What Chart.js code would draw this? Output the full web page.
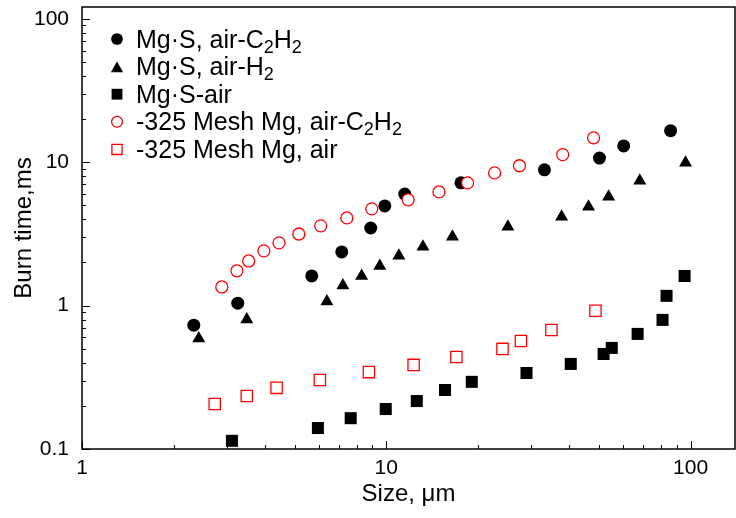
<!DOCTYPE html>
<html>
<head>
<meta charset="utf-8">
<script src="https://cdn.jsdelivr.net/npm/chart.js@4/dist/chart.umd.min.js"></script>
<style>
  html, body { margin: 0; padding: 0; background: #fff; }
  #wrap { width: 736px; height: 518px; }
</style>
</head>
<body>
<div id="wrap"><canvas id="chart" width="736" height="518"></canvas></div>
<script>
// Burn time vs particle size, log-log scatter

// Mg·S, air-C2H2 (filled circles)
const MGS_C2H2_X = [2.33, 3.25, 5.69, 7.14, 8.89, 9.89, 11.5, 17.6, 33.1, 50.2, 60.3, 86];
const MGS_C2H2_Y = [0.73, 1.04, 1.61, 2.37, 3.48, 4.96, 6.0, 7.18, 8.85, 10.7, 13.0, 16.6];

// Mg·S, air-H2 (filled triangles)
const MGS_H2_X = [2.42, 3.48, 6.38, 7.2, 8.3, 9.52, 11.0, 13.2, 16.5, 25.1, 37.7, 46.2, 53.8, 68.1, 96.3];
const MGS_H2_Y = [0.59, 0.80, 1.07, 1.38, 1.61, 1.89, 2.23, 2.57, 3.02, 3.55, 4.17, 4.9, 5.74, 7.43, 9.9];

// Mg·S-air (filled squares)
const MGS_AIR_X = [3.11, 5.96, 7.64, 9.96, 12.6, 15.6, 19.1, 28.9, 40.4, 51.8, 55.1, 67.0, 80.9, 83.4, 95.6];
const MGS_AIR_Y = [0.114, 0.140, 0.164, 0.190, 0.216, 0.258, 0.294, 0.339, 0.392, 0.46, 0.507, 0.635, 0.795, 1.17, 1.61];

// -325 Mesh Mg, air-C2H2 (open red circles)
const MESH_C2H2_X = [2.88, 3.23, 3.53, 3.96, 4.44, 5.16, 6.09, 7.42, 8.96, 11.8, 14.9, 18.5, 22.7, 27.4, 38.0, 48.0];
const MESH_C2H2_Y = [1.35, 1.75, 2.05, 2.41, 2.74, 3.16, 3.6, 4.09, 4.73, 5.47, 6.21, 7.18, 8.43, 9.45, 11.3, 14.8];

// -325 Mesh Mg, air (open red squares)
const MESH_AIR_X = [2.73, 3.48, 4.36, 6.05, 8.77, 12.3, 17.0, 24.1, 27.7, 34.9, 48.7];
const MESH_AIR_Y = [0.206, 0.234, 0.267, 0.303, 0.344, 0.386, 0.438, 0.499, 0.567, 0.676, 0.92];

// labels, "_2" means subscript 2
const LABELS = ["Mg·S, air-C_2H_2", "Mg·S, air-H_2", "Mg·S-air", "-325 Mesh Mg, air-C_2H_2", "-325 Mesh Mg, air"];
const X_TICKS = [1, 10, 100];
const Y_TICKS = [0.1, 1, 10, 100];
const X_RANGE = [1, 140];
const Y_RANGE = [0.1, 121];

const FONT = "'Liberation Sans', Arial, sans-serif";

const pts = (xs, ys) => xs.map((x, i) => ({ x, y: ys[i] }));

const STYLES = [
  { pointStyle: "circle", radius: 6.5, bg: "#000", border: "#000", bw: 0, order: 5 },
  { pointStyle: "triangle", radius: 7.5, bg: "#000", border: "#000", bw: 0, order: 4 },
  { pointStyle: "rect", radius: 8.5, bg: "#000", border: "#000", bw: 0, order: 3 },
  { pointStyle: "circle", radius: 6, bg: "#fff", border: "#ff0000", bw: 1.3, order: 1 },
  { pointStyle: "rect", radius: 8, bg: "#fff", border: "#ff0000", bw: 1.3, order: 2 },
];
const SERIES = [
  pts(MGS_C2H2_X, MGS_C2H2_Y),
  pts(MGS_H2_X, MGS_H2_Y),
  pts(MGS_AIR_X, MGS_AIR_Y),
  pts(MESH_C2H2_X, MESH_C2H2_Y),
  pts(MESH_AIR_X, MESH_AIR_Y),
];

const datasets = SERIES.map((data, i) => ({
  label: LABELS[i].replace(/_/g, ""),
  data,
  showLine: false,
  pointStyle: STYLES[i].pointStyle,
  pointRadius: STYLES[i].radius,
  pointHoverRadius: STYLES[i].radius,
  backgroundColor: STYLES[i].bg,
  borderColor: STYLES[i].border,
  borderWidth: STYLES[i].bw,
  order: STYLES[i].order,
  clip: false,
}));

// minor/major ticks inside the frame, plus the full box
const framePlugin = {
  id: "frame",
  afterDraw(chart) {
    const { ctx, chartArea: a, scales } = chart;
    ctx.save();
    ctx.strokeStyle = "#000";
    ctx.lineWidth = 1;
    const logTicks = (min, max) => {
      const out = [];
      for (let e = Math.floor(Math.log10(min)); e <= Math.ceil(Math.log10(max)); e++) {
        for (let m = 1; m <= 9; m++) {
          const v = m * Math.pow(10, e);
          if (v >= min * 0.999 && v <= max * 1.001) out.push({ v, major: m === 1 });
        }
      }
      return out;
    };
    logTicks(X_RANGE[0], X_RANGE[1]).forEach(t => {
      const px = Math.round(scales.x.getPixelForValue(t.v)) + 0.5;
      const len = t.major ? 8 : 4;
      ctx.beginPath();
      ctx.moveTo(px, a.bottom);
      ctx.lineTo(px, a.bottom - len);
      ctx.stroke();
    });
    logTicks(Y_RANGE[0], Y_RANGE[1]).forEach(t => {
      const py = Math.round(scales.y.getPixelForValue(t.v)) + 0.5;
      const len = t.major ? 8 : 4;
      ctx.beginPath();
      ctx.moveTo(a.left, py);
      ctx.lineTo(a.left + len, py);
      ctx.stroke();
    });
    ctx.lineWidth = 1.5;
    ctx.strokeRect(a.left, a.top, a.right - a.left, a.bottom - a.top);
    ctx.restore();
  },
};

// legend with subscripts, drawn inside the plot
const legendPlugin = {
  id: "subLegend",
  afterDraw(chart) {
    const { ctx } = chart;
    const x0 = 117, y0 = 39, step = 27.6;
    ctx.save();
    LABELS.forEach((label, i) => {
      const y = y0 + i * step;
      const st = STYLES[i];
      ctx.fillStyle = st.bg;
      ctx.strokeStyle = st.border;
      ctx.lineWidth = st.bw;
      const r = st.pointStyle === "triangle" ? st.radius * 0.95 : st.radius * 0.9;
      Chart.helpers.drawPoint(ctx, { pointStyle: st.pointStyle, radius: r, rotation: 0, borderWidth: st.bw }, x0, st.pointStyle === "triangle" ? y + 2 : y);
      let tx = 136;
      const base = y + 8.5;
      ctx.fillStyle = "#000";
      ctx.textBaseline = "alphabetic";
      label.split(/(_\d)/).forEach(part => {
        if (!part) return;
        if (part[0] === "_") {
          ctx.font = "18px " + FONT;
          ctx.fillText(part.slice(1), tx, base + 5);
          tx += ctx.measureText(part.slice(1)).width;
        } else {
          ctx.font = "25px " + FONT;
          ctx.fillText(part, tx, base);
          tx += ctx.measureText(part).width;
        }
      });
    });
    ctx.restore();
  },
};

new Chart(document.getElementById("chart"), {
  type: "scatter",
  data: { datasets },
  plugins: [framePlugin, legendPlugin],
  options: {
    responsive: false,
    animation: false,
    events: [],
    layout: { autoPadding: false, padding: { top: 7, right: 1, left: 0, bottom: 0 } },
    plugins: { legend: { display: false }, tooltip: { enabled: false } },
    scales: {
      x: {
        type: "logarithmic",
        min: X_RANGE[0],
        max: X_RANGE[1],
        afterBuildTicks: s => { s.ticks = X_TICKS.map(v => ({ value: v })); },
        afterFit: s => { s.height = 69; s.paddingLeft = 0; s.paddingRight = 0; },
        grid: { display: false, drawTicks: false },
        border: { display: false },
        ticks: {
          color: "#000",
          font: { family: FONT, size: 21 },
          padding: 7,
          maxRotation: 0,
          autoSkip: false,
          callback: v => String(v),
        },
        title: {
          display: true,
          text: "Size, μm",
          color: "#000",
          font: { family: FONT, size: 24 },
          padding: { top: 0, bottom: 9 },
        },
      },
      y: {
        type: "logarithmic",
        min: Y_RANGE[0],
        max: Y_RANGE[1],
        afterBuildTicks: s => { s.ticks = Y_TICKS.map(v => ({ value: v })); },
        afterFit: s => { s.width = 82; s.paddingTop = 0; s.paddingBottom = 0; },
        grid: { display: false, drawTicks: false },
        border: { display: false },
        ticks: {
          color: "#000",
          font: { family: FONT, size: 21 },
          padding: 13,
          autoSkip: false,
          callback: v => String(v),
        },
        title: {
          display: true,
          text: "Burn time,ms",
          color: "#000",
          font: { family: FONT, size: 24 },
          padding: { top: 10, bottom: 0 },
        },
      },
    },
  },
});
</script>
</body>
</html>
